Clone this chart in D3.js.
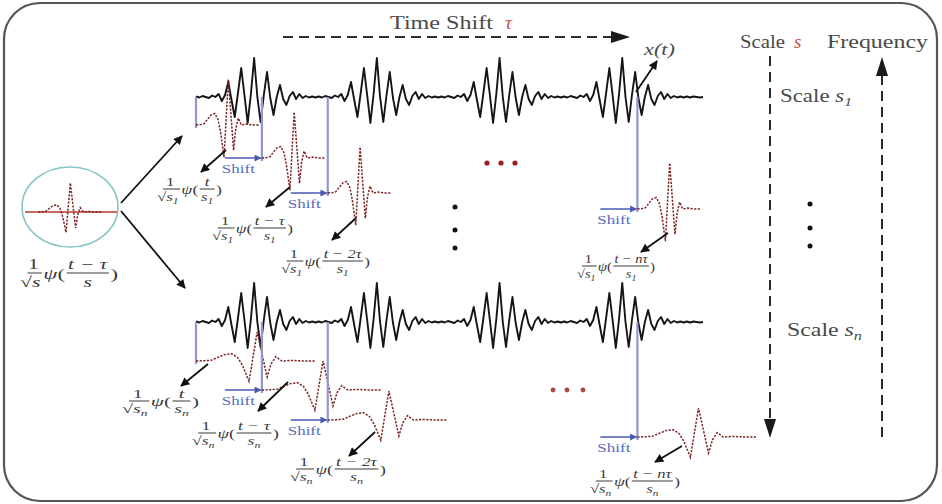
<!DOCTYPE html>
<html>
<head>
<meta charset="utf-8">
<script src="https://cdn.jsdelivr.net/npm/d3@7"></script>
<style>
  html, body { margin: 0; padding: 0; background: #fff; }
  svg { display: block; }
  text { font-family: "Liberation Serif", "Times New Roman", serif; font-weight: normal; }
</style>
</head>
<body>
<script>
// ---- data ----------------------------------------------------------------
// One burst of the analysed signal x(t), sampled at a fixed step (peak at sample 18)
const burst = [0.5, -0.5, 1, 0, -1, 1.5, 0, 3, -4, 2, 15, -3, -20, 4, 29, 2, -26, 3, 39, 0,
               -25, 2, 25, -1, -18, 0, 12, -2, -8, 1, 5, -2, 3, -1, 1, -0.5, 0.5, -0.5];
// quiet tail after the last burst
const tail = [0.5, -0.5, 0.5, 0, -0.5, 0];
// x(t): four repeated bursts followed by the tail
const signal = [].concat(burst, burst, burst, burst, tail);

// mother wavelet psi over its normalised support [0, 1]
const psiU = [0, 0.08, 0.13, 0.18, 0.24, 0.30, 0.35, 0.39, 0.445, 0.513, 0.597, 0.63, 0.67, 0.72, 0.80, 0.9, 1];
const psiV = [0, 0.01, 0.03, 0.12, 0.22, 0.25, 0.12, -0.15, -0.7, 1, -0.55, -0.1, 0.15, 0, 0.02, 0, 0];

// time shifts, in multiples of tau, and the matching numerators
const shiftSteps = [0, 1, 2, 6.7];
const numerators = ["t", "t \u2212 \u03c4", "t \u2212 2\u03c4", "t \u2212 n\u03c4"];
// the two scales shown: subscript and wavelet support (in signal samples)
const scaleNames = ["1", "n"];
const scaleSupport = [19.5, 36.9];
const tau = 20.4; // one shift step, in signal samples

// ---- layout ----------------------------------------------------------------
const W = 942, H = 504;
const ink = "#3a3a3a";
const rows = [
  { base: 97, amp: 46, wBase: [125, 158, 193, 209],
    formulas: [[157, 189, 65], [212, 228, 81], [281, 261, 89], [577, 266, 78]],
    arrows: [[[226, 150], [201, 172]], [[290, 187], [266, 207]], [[356, 218], [332, 240]], [[668, 233], [641, 252]]] },
  { base: 322, amp: 29, wBase: [361, 390, 420, 437],
    formulas: [[122, 401, 77], [192, 433, 87], [290, 469, 96], [590, 481, 90]],
    arrows: [[[208, 364], [181, 386]], [[288, 382], [258, 411]], [[375, 432], [349, 456]], [[682, 446], [655, 462]]] }
];

const svg = d3.select("body").append("svg").attr("width", W).attr("height", H);

// arrowhead markers
const defs = svg.append("defs");
function marker(id, color, w, h) {
  defs.append("marker").attr("id", id)
    .attr("viewBox", "0 0 10 10").attr("refX", 9).attr("refY", 5)
    .attr("markerUnits", "userSpaceOnUse")
    .attr("markerWidth", w).attr("markerHeight", h).attr("orient", "auto")
    .append("path").attr("d", "M0,0 L10,5 L0,10 z").attr("fill", color);
}
marker("ahBlack", "#111", 11, 9);
marker("ahBlue", "#4a5ab4", 9, 7);

// rounded frame
svg.append("rect").attr("x", 4).attr("y", 3).attr("width", 933).attr("height", 498)
  .attr("rx", 36).attr("ry", 36).attr("fill", "none")
  .attr("stroke", "#555").attr("stroke-width", 2.2);

// signal time axis (sample index -> page x)
const sx = d3.scaleLinear().domain([0, signal.length - 1]).range([196, 703]);

function arrow(g, from, to, color, width, mk) {
  g.append("line").attr("x1", from[0]).attr("y1", from[1]).attr("x2", to[0]).attr("y2", to[1])
    .attr("stroke", color).attr("stroke-width", width).attr("marker-end", `url(#${mk})`);
}

// fraction formula 1/sqrt(s) psi(num / s), stretched to a given width
function formula(parent, x0, yBar, num, sub, fs, width) {
  const g = parent.append("g").attr("transform", `translate(${x0},${yBar})`);
  const inner = g.append("g").attr("fill", ink);
  const T = (x, y, size) => inner.append("text").attr("x", x).attr("y", y).attr("font-size", size);
  const sTerm = (t) => {
    t.append("tspan").attr("font-style", "italic").text("s");
    if (sub) t.append("tspan").attr("font-style", "italic").attr("font-size", fs * 0.68).attr("dy", fs * 0.22).text(sub);
  };
  // 1 / sqrt(s)
  const den = T(0, fs * 0.98, fs);
  den.append("tspan").text("\u221a");
  sTerm(den);
  const dw = den.node().getComputedTextLength();
  T(dw / 2 + fs * 0.15, -fs * 0.28, fs).attr("text-anchor", "middle").text("1");
  inner.append("line").attr("x1", fs * 0.35).attr("x2", dw + 1).attr("y1", 0).attr("y2", 0)
    .attr("stroke", ink).attr("stroke-width", 1);
  let x = dw + 2;
  const p = T(x, fs * 0.42, fs * 1.05);
  p.append("tspan").attr("font-style", "italic").text("\u03c8");
  p.append("tspan").text("(");
  x += p.node().getComputedTextLength() + 1;
  // argument fraction
  const n = T(0, -fs * 0.28, fs).attr("font-style", "italic").text(num);
  const nw = n.node().getComputedTextLength();
  const d = T(0, fs * 0.98, fs);
  sTerm(d);
  const dw2 = d.node().getComputedTextLength();
  const fw = Math.max(nw, dw2) + 2;
  n.attr("x", x + (fw - nw) / 2);
  d.attr("x", x + (fw - dw2) / 2);
  inner.append("line").attr("x1", x).attr("x2", x + fw).attr("y1", 0).attr("y2", 0)
    .attr("stroke", ink).attr("stroke-width", 1);
  x += fw + 1;
  const c = T(x, fs * 0.42, fs * 1.05).text(")");
  x += c.node().getComputedTextLength();
  inner.attr("transform", `scale(${width / x},1)`);
}

const line = d3.line().curve(d3.curveLinear);

rows.forEach((row, r) => {
  const g = svg.append("g");
  const sy = d3.scaleLinear().domain([-40, 40]).range([row.base + 40, row.base - 40]);

  // x(t)
  g.append("path")
    .attr("d", line(signal.map((v, i) => [sx(i), sy(v)])))
    .attr("fill", "none").attr("stroke", "#151515").attr("stroke-width", 1.9)
    .attr("stroke-linejoin", "round");

  shiftSteps.forEach((k, j) => {
    const t0 = k * tau;
    const xs = sx(t0);
    const wb = row.wBase[j];

    // shift marker
    g.append("line").attr("x1", xs).attr("x2", xs).attr("y1", row.base).attr("y2", wb + 3)
      .attr("stroke", "#9297cc").attr("stroke-width", 2.2);
    if (k > 0) {
      arrow(g, [xs - 37, wb], [xs - 1, wb], "#4a5ab4", 1.5, "ahBlue");
      g.append("text").attr("x", xs - 40).attr("y", wb + 15)
        .attr("font-family", "Liberation Sans, Arial, sans-serif")
        .attr("font-size", 13).attr("fill", "#5a6bc0")
        .attr("textLength", 33).attr("lengthAdjust", "spacingAndGlyphs")
        .text("Shift");
    }

    // shifted, scaled wavelet
    const wx = d3.scaleLinear().domain([0, 1]).range([xs, sx(t0 + scaleSupport[r])]);
    const wy = d3.scaleLinear().domain([-1, 1]).range([wb + row.amp, wb - row.amp]);
    g.append("path")
      .attr("d", line(psiU.map((u, i) => [wx(u), wy(psiV[i])])))
      .attr("fill", "none").attr("stroke", "#7a2424").attr("stroke-width", 1.5)
      .attr("stroke-dasharray", "2.2,1.4");

    // label arrow and formula
    arrow(g, row.arrows[j][0], row.arrows[j][1], "#111", 1.8, "ahBlack");
    const f = row.formulas[j];
    formula(g, f[0], f[1], numerators[j], scaleNames[r], 12.5, f[2]);
  });
});

// mother wavelet inside the ellipse
const eg = svg.append("g");
eg.append("ellipse").attr("cx", 70).attr("cy", 207).attr("rx", 48).attr("ry", 40)
  .attr("fill", "none").attr("stroke", "#86c5c5").attr("stroke-width", 1.6);
eg.append("line").attr("x1", 25).attr("x2", 117).attr("y1", 212).attr("y2", 212)
  .attr("stroke", "#b83a32").attr("stroke-width", 1.5);
const mx = d3.scaleLinear().domain([0, 1]).range([38, 101]);
const my = d3.scaleLinear().domain([-1, 1]).range([212 + 29, 212 - 29]);
eg.append("path").attr("d", line(psiU.map((u, i) => [mx(u), my(psiV[i])])))
  .attr("fill", "none").attr("stroke", "#7a2424").attr("stroke-width", 1.5)
  .attr("stroke-dasharray", "2.2,1.4");
formula(eg, 20, 273, "t \u2212 \u03c4", "", 14.5, 98);
arrow(eg, [121, 203], [182, 136], "#111", 1.8, "ahBlack");
arrow(eg, [121, 211], [185, 288], "#111", 1.8, "ahBlack");

// headings and axes of the diagram
const lab = svg.append("g").attr("fill", "#4a4a4a");
lab.append("text").attr("x", 390).attr("y", 29).attr("font-size", 19)
  .attr("textLength", 103).attr("lengthAdjust", "spacingAndGlyphs").text("Time Shift");
lab.append("text").attr("x", 505).attr("y", 29).attr("font-size", 19).attr("font-style", "italic")
  .attr("fill", "#c8504a").text("\u03c4");
lab.append("text").attr("x", 740).attr("y", 48).attr("font-size", 19)
  .attr("textLength", 45).attr("lengthAdjust", "spacingAndGlyphs").text("Scale");
lab.append("text").attr("x", 794).attr("y", 48).attr("font-size", 19).attr("font-style", "italic")
  .attr("fill", "#c8504a").text("s");
lab.append("text").attr("x", 827).attr("y", 48).attr("font-size", 19)
  .attr("textLength", 101).attr("lengthAdjust", "spacingAndGlyphs").text("Frequency");

function scaleLabel(x, y, sub, width) {
  const t = lab.append("text").attr("x", x).attr("y", y).attr("font-size", 19)
    .attr("textLength", width).attr("lengthAdjust", "spacingAndGlyphs");
  t.append("tspan").text("Scale ");
  t.append("tspan").attr("font-style", "italic").text("s");
  t.append("tspan").attr("font-style", "italic").attr("font-size", 13).attr("dy", 4).text(sub);
}
scaleLabel(780, 102, "1", 72);
scaleLabel(787, 336, "n", 75);

lab.append("text").attr("x", 644).attr("y", 55).attr("font-size", 17).attr("font-style", "italic")
  .attr("textLength", 31).attr("lengthAdjust", "spacingAndGlyphs").text("x(t)");
arrow(lab, [636, 92], [657, 61], "#111", 1.8, "ahBlack");

// dashed direction arrows
const ax = svg.append("g").attr("stroke", "#2a2a2a").attr("stroke-width", 2).attr("stroke-dasharray", "10,6");
ax.append("line").attr("x1", 283).attr("x2", 613).attr("y1", 37).attr("y2", 37);
ax.append("line").attr("x1", 770).attr("x2", 770).attr("y1", 56).attr("y2", 421);
ax.append("line").attr("x1", 882).attr("x2", 882).attr("y1", 437).attr("y2", 74);
const heads = svg.append("g").attr("fill", "#1a1a1a");
heads.append("path").attr("d", "M630,37 L611,31 L611,43 Z");
heads.append("path").attr("d", "M770,438 L764,419 L776,419 Z");
heads.append("path").attr("d", "M882,57 L876,76 L888,76 Z");

// ellipsis dots
const dots = svg.append("g");
[[487, 163], [501, 163], [515, 163]].forEach(p => dots.append("circle").attr("cx", p[0]).attr("cy", p[1]).attr("r", 2.6).attr("fill", "#9a2020"));
[[553, 390], [567, 390], [583, 390]].forEach(p => dots.append("circle").attr("cx", p[0]).attr("cy", p[1]).attr("r", 2.4).attr("fill", "#b04545"));
[[455, 207], [455, 230], [455, 248], [810, 204], [810, 228], [810, 246]].forEach(p => dots.append("circle").attr("cx", p[0]).attr("cy", p[1]).attr("r", 2.5).attr("fill", "#111"));
</script>
</body>
</html>
